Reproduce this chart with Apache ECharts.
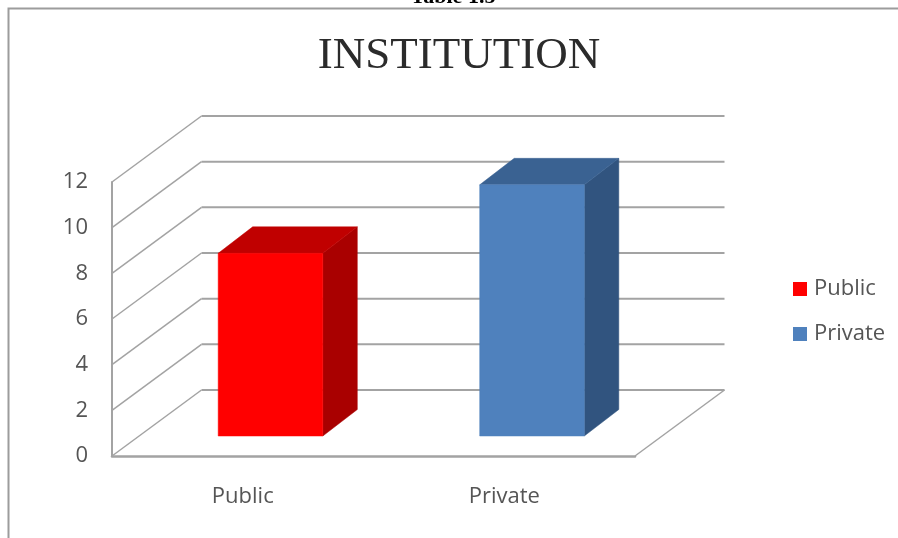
<!DOCTYPE html>
<html>
<head>
<meta charset="utf-8">
<style>html,body{margin:0;padding:0;background:#fff}#c{width:898px;height:538px}</style>
<script src="https://cdn.jsdelivr.net/npm/echarts@6/dist/echarts.min.js"></script>
</head>
<body>
<div id="c"></div>
<script>
const categories = ['Public', 'Private'];
const publicValues = [8, null];
const privateValues = [null, 11];
const yTicks = [0, 2, 4, 6, 8, 10, 12];
const titleText = 'INSTITUTION';
const captionText = 'Table 1.5';

const WALL = [89.5, -66];
const BASE = [27.75, -20];
const DEPTH = [34.5, -26.5];
const GRID_COLOR = '#a3a3a3';
const FONT = '"Open Sans", Lato, sans-serif';

function poly(points, fill) {
  return { type: 'polygon', shape: { points: points }, style: { fill: fill, stroke: fill, lineWidth: 0.5 } };
}
function line(a, b, w) {
  return { type: 'line', shape: { x1: a[0], y1: a[1], x2: b[0], y2: b[1] }, style: { stroke: GRID_COLOR, lineWidth: w } };
}
function wallItem(params, api) {
  const v = api.value(0);
  const y = api.coord([0, v])[1];
  const x0 = params.coordSys.x, x1 = x0 + params.coordSys.width;
  const kids = [
    line([x0, y], [x0 + WALL[0], y + WALL[1]], 1.5),
    line([x0 + WALL[0], y + WALL[1]], [x1 + WALL[0], y + WALL[1]], 2)
  ];
  if (v === 0) kids.push(line([x1, y], [x1 + WALL[0], y + WALL[1]], 1.5));
  return { type: 'group', children: kids };
}
function barItem(front, top, side) {
  return function (params, api) {
    const val = api.value(1);
    if (val == null || isNaN(val)) return null;
    const base = api.coord([api.value(0), 0]);
    const head = api.coord([api.value(0), val]);
    const w = api.size([1, 0])[0] * 0.4;
    const l = base[0] - w / 2 + BASE[0], r = l + w;
    const b = base[1] + BASE[1], t = head[1] + BASE[1];
    const dx = DEPTH[0], dy = DEPTH[1];
    return { type: 'group', children: [
      poly([[r, t], [r + dx, t + dy], [r + dx, b + dy], [r, b]], side),
      poly([[l, t], [l + dx, t + dy], [r + dx, t + dy], [r, t]], top),
      poly([[l, t], [r, t], [r, b], [l, b]], front)
    ] };
  };
}

const chart = echarts.init(document.getElementById('c'), null, { renderer: 'canvas' });
chart.setOption({
  animation: false,
  backgroundColor: '#fff',
  title: {
    text: titleText, left: 454, top: 29, textAlign: 'center',
    textStyle: { fontFamily: '"Liberation Serif", serif', fontWeight: 'normal', fontSize: 45, color: '#2b2b2b' }
  },
  legend: {
    orient: 'vertical', left: 788, top: 273, itemWidth: 14, itemHeight: 14, itemGap: 23,
    data: [{ name: 'Public', icon: 'rect' }, { name: 'Private', icon: 'rect' }],
    textStyle: { fontFamily: FONT, fontSize: 22, color: '#555', padding: [0, 0, 0, 2] }
  },
  grid: { left: 112, right: 263, top: 182, bottom: 82 },
  xAxis: {
    type: 'category', data: categories,
    axisLine: { show: true, lineStyle: { color: GRID_COLOR, width: 2.5 } },
    axisTick: { show: false },
    axisLabel: { margin: 30, fontFamily: FONT, fontSize: 22, color: '#555' }
  },
  yAxis: {
    type: 'value', min: 0, max: 12, interval: 2,
    axisLine: { show: true, lineStyle: { color: GRID_COLOR, width: 2 } },
    axisTick: { show: false },
    splitLine: { show: false },
    axisLabel: { margin: 24, fontFamily: FONT, fontSize: 22, color: '#555', padding: [3, 0, 0, 0] }
  },
  series: [
    { type: 'custom', name: 'walls', silent: true, clip: false, z: 1, encode: { y: 0 },
      data: yTicks.map(v => [v]), renderItem: wallItem },
    { type: 'custom', name: 'Public', clip: false, z: 3, itemStyle: { color: '#ff0000' },
      encode: { x: 0, y: 1 }, data: categories.map((c, i) => [i, publicValues[i]]),
      renderItem: barItem('#ff0000', '#c00000', '#a90000') },
    { type: 'custom', name: 'Private', clip: false, z: 3, itemStyle: { color: '#4f81bd' },
      encode: { x: 0, y: 1 }, data: categories.map((c, i) => [i, privateValues[i]]),
      renderItem: barItem('#4f81bd', '#3a6292', '#31547f') }
  ],
  graphic: [
    { type: 'polyline', silent: true, shape: { points: [[8.5, 538], [8.5, 8.5], [898, 8.5]] },
      style: { stroke: '#9c9c9c', lineWidth: 2, fill: null } },
    { type: 'text', silent: true, style: { text: captionText, x: 453, y: -14, align: 'center', verticalAlign: 'top',
      font: 'bold 22px "Liberation Serif", serif', fill: '#000' } }
  ]
});
</script>
</body>
</html>
